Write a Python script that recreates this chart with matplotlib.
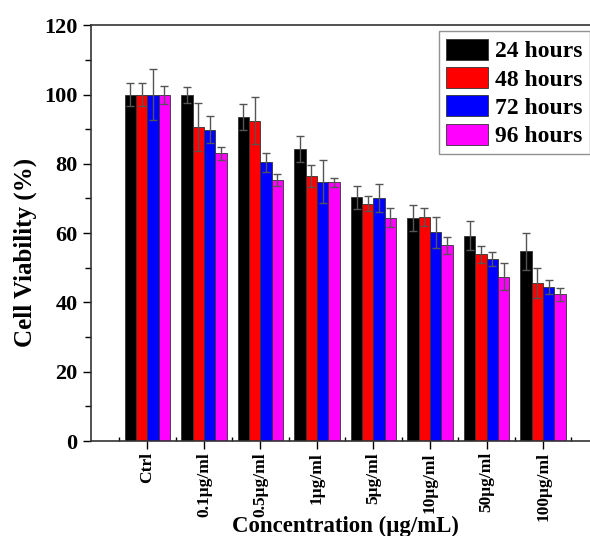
import numpy as np
import matplotlib
matplotlib.use('Agg')
import matplotlib.pyplot as plt
from matplotlib.ticker import MultipleLocator

plt.rcParams['font.family'] = ['Liberation Serif', 'DejaVu Serif']
plt.rcParams['font.weight'] = 'bold'

# data
categories = ['Ctrl', '0.1μg/ml', '0.5μg/ml', '1μg/ml', '5μg/ml', '10μg/ml', '50μg/ml', '100μg/ml']
series = ['24 hours', '48 hours', '72 hours', '96 hours']
h24 = [100, 99.8, 93.5, 84.2, 70.3, 64.4, 59.3, 54.8]
h48 = [100, 90.6, 92.4, 76.5, 68.5, 64.7, 53.9, 45.7]
h72 = [100, 89.9, 80.4, 74.8, 70.1, 60.2, 52.5, 44.5]
h96 = [100, 83.0, 75.4, 74.7, 64.5, 56.5, 47.4, 42.4]
e24 = [3.3, 2.3, 3.7, 3.8, 3.2, 3.7, 4.1, 5.3]
e48 = [3.4, 7.0, 6.8, 3.1, 2.2, 2.6, 2.4, 4.3]
e72 = [7.3, 4.0, 2.7, 6.2, 4.0, 4.4, 2.0, 2.1]
e96 = [2.6, 2.0, 1.7, 1.3, 2.8, 2.4, 3.9, 1.9]

values = [h24, h48, h72, h96]
errors = [e24, e48, e72, e96]
colors = ['#000000', '#ff0000', '#0000ff', '#ff00ff']

fig = plt.figure(figsize=(5.9, 5.36), dpi=100)
ax = fig.add_axes([0.154, 0.177, 0.846, 0.776])

x = np.arange(len(categories))
w = 0.2
for i in range(4):
    ax.bar(x + (i - 1.5) * w, values[i], w, color=colors[i], edgecolor='#333333',
           linewidth=0.6, label=series[i],
           yerr=errors[i], error_kw=dict(ecolor='#555555', elinewidth=1, capsize=3, capthick=1))

ax.set_xlim(-1, 7.83)
ax.set_ylim(0, 120)
ax.set_xticks(x)
ax.set_xticklabels(categories, rotation=90, fontsize=12.5, fontweight='bold')
ax.set_xticks(np.arange(-0.5, 8, 1), minor=True)
ax.yaxis.set_major_locator(MultipleLocator(20))
ax.yaxis.set_minor_locator(MultipleLocator(10))
ax.tick_params(axis='y', which='major', direction='out', length=6, width=1, labelsize=16)
ax.tick_params(axis='y', which='minor', direction='out', length=4, width=1)
ax.tick_params(axis='x', which='major', direction='out', length=6, width=1, pad=2)
ax.tick_params(axis='x', which='minor', direction='in', length=3, width=1)
for lab in ax.get_yticklabels():
    lab.set_fontweight('bold')

ax.spines['right'].set_visible(False)
for s in ['left', 'bottom', 'top']:
    ax.spines[s].set_linewidth(1.2)
    ax.spines[s].set_color('#333333')

ax.set_ylabel('Cell Viability (%)', fontsize=18, fontweight='bold')
ax.yaxis.set_label_coords(-0.108, 0.454)
ax.set_xlabel('Concentration (μg/mL)', fontsize=16.5, fontweight='bold')
ax.xaxis.set_label_coords(0.51, -0.18)

leg = ax.legend(loc='upper right', bbox_to_anchor=(1.0, 0.985), borderaxespad=0,
                prop={'weight': 'bold', 'size': 17}, fancybox=False,
                edgecolor='#777777', handlelength=1.8, handleheight=1.0,
                handletextpad=0.3, labelspacing=0.2, borderpad=0.3)
leg.get_frame().set_linewidth(1)

fig.savefig('out.png', dpi=100)
